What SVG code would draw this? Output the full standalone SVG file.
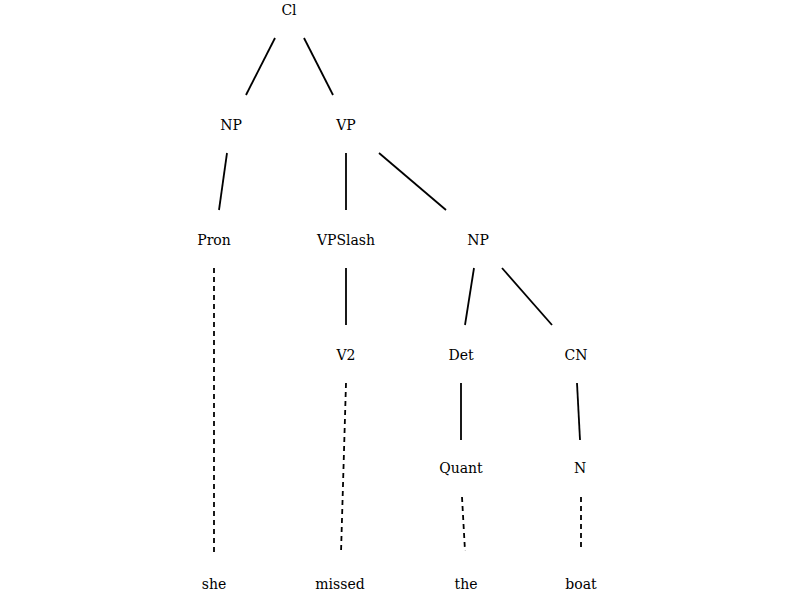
<svg xmlns="http://www.w3.org/2000/svg" width="803" height="593" viewBox="0 0 803 593">
  <style>
    .lbl { font-family: 'DejaVu Serif', serif; font-size: 14px; fill: #000; text-anchor: middle; }
    .edge { stroke: #000; stroke-width: 1.8; fill: none; }
    .lex { stroke: #000; stroke-width: 1.8; fill: none; stroke-dasharray: 5 4; }
  </style>
  <rect width="803" height="593" fill="#fff"/>

  <!-- tree edges -->
  <g id="connectors">
    <line class="edge" x1="275" y1="38" x2="246" y2="95"/>
    <line class="edge" x1="304" y1="38" x2="333" y2="95"/>
    <line class="edge" x1="227" y1="153" x2="219" y2="210"/>
    <line class="edge" x1="346" y1="153" x2="346" y2="210"/>
    <line class="edge" x1="379" y1="153" x2="446" y2="210"/>
    <line class="edge" x1="346" y1="268" x2="346" y2="325"/>
    <line class="edge" x1="474" y1="268" x2="465" y2="325"/>
    <line class="edge" x1="502" y1="268" x2="552" y2="325"/>
    <line class="edge" x1="461" y1="383" x2="461" y2="440"/>
    <line class="edge" x1="577" y1="383" x2="580" y2="440"/>
    <!-- lexical links -->
    <line class="lex" x1="214" y1="268" x2="214" y2="553"/>
    <line class="lex" x1="346" y1="383" x2="341" y2="553"/>
    <line class="lex" x1="462" y1="497" x2="465" y2="551"/>
    <line class="lex" x1="581" y1="497" x2="581" y2="551"/>
  </g>

  <!-- categories -->
  <g id="n-cl"><text class="lbl" x="289" y="15">Cl</text></g>
  <g id="n-np1"><text class="lbl" x="231" y="130">NP</text></g>
  <g id="n-vp"><text class="lbl" x="346" y="130">VP</text></g>
  <g id="n-pron"><text class="lbl" x="214" y="245">Pron</text></g>
  <g id="n-vpslash"><text class="lbl" x="346" y="245">VPSlash</text></g>
  <g id="n-np2"><text class="lbl" x="478" y="245">NP</text></g>
  <g id="n-v2"><text class="lbl" x="346" y="360">V2</text></g>
  <g id="n-det"><text class="lbl" x="461" y="360">Det</text></g>
  <g id="n-cn"><text class="lbl" x="576" y="360">CN</text></g>
  <g id="n-quant"><text class="lbl" x="461" y="473">Quant</text></g>
  <g id="n-n"><text class="lbl" x="580" y="473">N</text></g>

  <!-- words -->
  <g id="w-she"><text class="lbl" x="214" y="589">she</text></g>
  <g id="w-missed"><text class="lbl" x="340" y="589">missed</text></g>
  <g id="w-the"><text class="lbl" x="466" y="589">the</text></g>
  <g id="w-boat"><text class="lbl" x="581" y="589">boat</text></g>
</svg>
